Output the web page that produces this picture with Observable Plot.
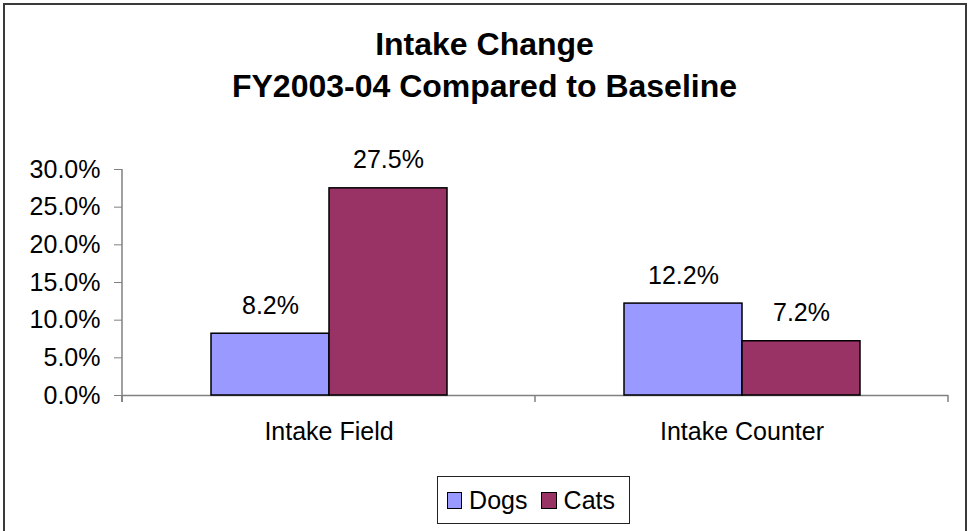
<!DOCTYPE html>
<html>
<head>
<meta charset="utf-8">
<script src="https://cdn.jsdelivr.net/npm/d3@7"></script>
<script src="https://cdn.jsdelivr.net/npm/@observablehq/plot@0.6"></script>
<style>
  html, body { margin: 0; padding: 0; background: #fff; overflow: hidden; }
  #wrap { position: relative; width: 969px; height: 531px; font-family: "Liberation Sans", Arial, sans-serif; color: #000; }
  #frame { position: absolute; left: 3px; top: 3px; width: 964px; height: 560px; border: 2px solid #3a3a3a; box-sizing: border-box; }
  #title { position: absolute; left: 0; top: 23px; width: 969px; text-align: center; font-weight: bold; font-size: 32px; line-height: 42px; }
  #chart { position: absolute; left: 0; top: 0; }
  #legend { position: absolute; left: 437px; top: 476px; width: 193px; height: 48px; border: 1.5px solid #222; box-sizing: border-box; display: flex; align-items: center; padding-left: 9px; font-size: 25px; line-height: 25px; }
  .sw { width: 17px; height: 17px; border: 1.5px solid #000; box-sizing: border-box; margin-right: 7px; }
  .lab { margin-right: 14px; }
</style>
</head>
<body>
<div id="wrap">
  <div id="frame"></div>
  <div id="title"></div>
  <div id="chart"></div>
  <div id="legend"></div>
</div>
<script>
const titleLines = ["Intake Change", "FY2003-04 Compared to Baseline"];
const categories = ["Intake Field", "Intake Counter"];
const series = ["Dogs", "Cats"];
const dogs = [0.082, 0.122];
const cats = [0.275, 0.072];
const colors = ["#9999FF", "#993366"];
const yTicks = [0, 0.05, 0.10, 0.15, 0.20, 0.25, 0.30];

const fmt = d3.format(".1%");
const data = categories.flatMap((c, i) => [
  {category: c, series: series[0], value: dogs[i]},
  {category: c, series: series[1], value: cats[i]}
]);

document.getElementById("title").innerHTML = titleLines.map(t => `<div>${t}</div>`).join("");

const plot = Plot.plot({
  width: 969,
  height: 460,
  marginTop: 169,
  marginBottom: 65,
  marginLeft: 122,
  marginRight: 21,
  style: {fontFamily: "'Liberation Sans', Arial, sans-serif", fontSize: "25px", color: "black", background: "transparent", overflow: "visible"},
  fx: {domain: categories, padding: 0, label: null},
  x: {domain: series, paddingInner: 0, paddingOuter: 0.74, axis: null},
  y: {domain: [0, 0.3], label: null},
  color: {domain: series, range: colors},
  marks: [
    Plot.axisY({ticks: yTicks, tickFormat: fmt, tickSize: 8, tickPadding: 14, stroke: "#808080", label: null}),
    Plot.axisFx({anchor: "bottom", tickSize: 0, tickPadding: 27, label: null}),
    Plot.ruleY([0], {stroke: "#808080", strokeWidth: 1.5}),
    Plot.barY(data, {fx: "category", x: "series", y: "value", fill: "series", stroke: "black", strokeWidth: 1.5}),
    Plot.text(data, {fx: "category", x: "series", y: "value", text: d => fmt(d.value), dy: -20, lineAnchor: "bottom", fill: "black"})
  ]
});
document.getElementById("chart").appendChild(plot);

// axis line and category boundary ticks, positioned from Plot's own scales
const fxs = plot.scale("fx");
const ys = plot.scale("y");
const svg = d3.select(plot);
const y0 = ys.apply(0), yTop = ys.apply(0.3);
const left = fxs.apply(categories[0]);
const edges = [left].concat(categories.map(c => fxs.apply(c) + fxs.bandwidth));
const g = svg.append("g").attr("stroke", "#808080").attr("stroke-width", 1.5);
g.append("line").attr("x1", left).attr("x2", left).attr("y1", yTop).attr("y2", y0 + 7);
edges.forEach(x => g.append("line").attr("x1", x).attr("x2", x).attr("y1", y0).attr("y2", y0 + 7));

// legend
document.getElementById("legend").innerHTML = series.map((s, i) =>
  `<div class="sw" style="background:${colors[i]}"></div><div class="lab">${s}</div>`).join("");
</script>
</body>
</html>
